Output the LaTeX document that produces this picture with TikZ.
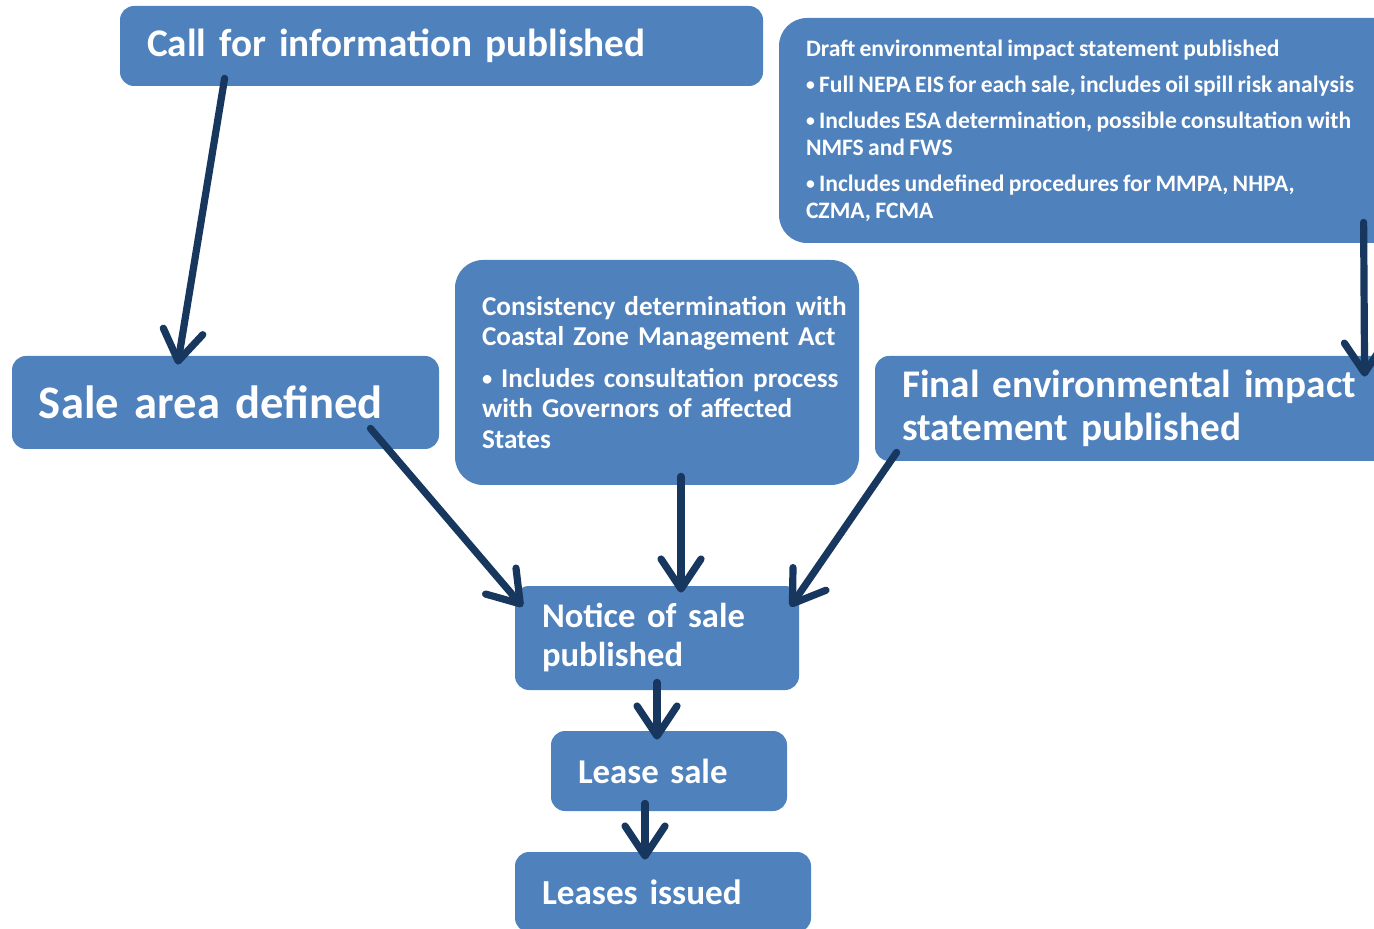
\documentclass[tikz,border=0pt]{standalone}
\usepackage{fontspec}
\setmainfont{Carlito}
\usepackage{xcolor}
\usepackage{tikz}
\usetikzlibrary{arrows.meta,calc}
\newcommand{\bul}{\raisebox{0.12ex}{\scalebox{0.75}{\textbullet}}}
\newcommand{\tightsp}{\spaceskip=0.8\fontdimen2\font\relax}
\definecolor{clrBox}{RGB}{79,129,189}
\definecolor{clrArr}{RGB}{23,55,94}
\tikzset{
  box/.style={rectangle,rounded corners=7pt,fill=clrBox,text=white,
    font=\bfseries,align=left,inner xsep=13.5pt,inner ysep=0pt},
  bigbox/.style={box,rounded corners=14pt},
  arrow/.style={-{Straight Barb[length=15pt,width=20pt,round]},line width=3.6pt,
    color=clrArr,line cap=round}
}

\begin{document}
\begin{tikzpicture}[x=0.5pt,y=-0.5pt]
  \useasboundingbox (0,0) rectangle (1374,929);
  \clip (0,0) rectangle (1374,929);
  \node[box,text width=294.5pt,minimum height=40pt,font=\bfseries\fontsize{19.6}{23}\selectfont]
    (call) at (441.5,46) {Call for information published};
  \node[bigbox,text width=293.5pt,minimum height=112.5pt,font=\bfseries\fontsize{11.8}{13.5}\selectfont]
    (draft) at (1099.5,130.5)
    {\tightsp Draft environmental impact statement published\\[4.5pt]
     \mbox{\bul\ Full NEPA EIS for each sale, includes oil spill risk analysis}\\[4.5pt]
     \mbox{\bul\ Includes ESA determination, possible consultation with}\\
     NMFS and FWS\\[4.5pt]
     \mbox{\bul\ Includes undefined procedures for MMPA, NHPA,}\\
     CZMA, FCMA};
  \node[box,text width=186.5pt,minimum height=46.5pt,font=\bfseries\fontsize{23.3}{27}\selectfont]
    (sale) at (225.5,402.5) {Sale area defined};
  \node[bigbox,text width=175pt,minimum height=112.5pt,font=\bfseries\fontsize{13.6}{15.25}\selectfont]
    (cons) at (657,372.5)
    {\mbox{Consistency determination with}\\
     \mbox{Coastal Zone Management Act}\\[5.5pt]
     \mbox{\bul\ Includes consultation process}\\
     \mbox{with Governors of affected}\\
     States};
  \node[box,text width=235.5pt,minimum height=52.5pt,font=\bfseries\fontsize{19.6}{21.5}\selectfont]
    (final) at (1137.5,408.5) {\mbox{Final environmental impact}\\statement published};
  \node[box,text width=115pt,minimum height=52pt,font=\bfseries\fontsize{17.3}{19.5}\selectfont]
    (notice) at (657,638) {Notice of sale\\published};
  \node[box,text width=91pt,minimum height=40pt,font=\bfseries\fontsize{17.4}{19.5}\selectfont]
    (lease) at (669,771) {Lease sale};
  \node[box,text width=121pt,minimum height=40pt,font=\bfseries\fontsize{17.6}{19.5}\selectfont]
    (issued) at (663,892) {Leases issued};
  % connectors
  \draw[arrow] ($(call.south west)+(105,-8)$) -- ($(sale.north west)+(166,9)$);
  \draw[arrow] ($(draft.south west)+(585,-21)$) -- ($(final.north west)+(490,21)$);
  \draw[arrow] ($(sale.south east)+(-69,-21)$) -- ($(notice.north west)+(8,21)$);
  \draw[arrow] ($(cons.south)+(24,-9)$) -- ($(notice.north)+(24,7)$);
  \draw[arrow] ($(final.south west)+(22,-9)$) -- ($(notice.north east)+(-9,21)$);
  \draw[arrow] ($(notice.south)+(0,-8)$) -- ($(lease.north)+(-12,9)$);
  \draw[arrow] ($(lease.south)+(-24,-8)$) -- ($(issued.north)+(-18,8)$);
\end{tikzpicture}
\end{document}
